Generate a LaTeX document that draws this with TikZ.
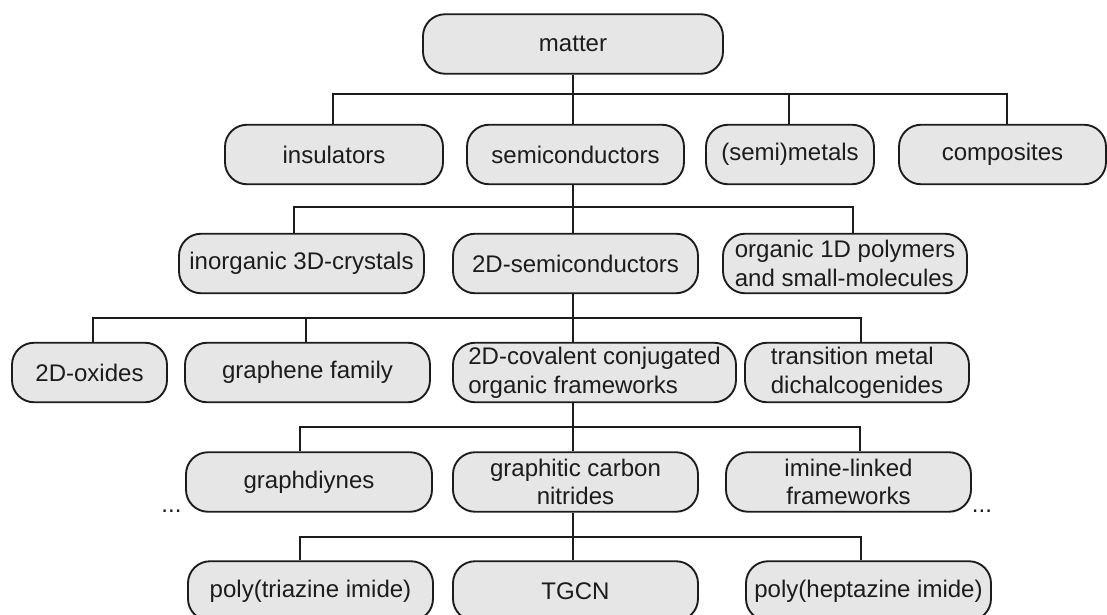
\documentclass[tikz,border=0pt]{standalone}
\usepackage{fontspec}
\setmainfont{Liberation Sans}
\usepackage{tikz}

\definecolor{boxgray}{RGB}{230,230,230}
\definecolor{ink}{RGB}{28,28,28}
\tikzset{
  cat/.style={draw=ink, fill=boxgray, line width=1.6pt, rounded corners=0.66cm,
    minimum height=1.785cm, inner sep=0pt, text=ink,
    font=\fontsize{20.5}{24.5}\selectfont},
  wd/.style={minimum width=#1*0.03cm},
  link/.style={draw=ink, line width=1.6pt},
  more/.style={inner sep=0pt, anchor=base, text=ink, font=\fontsize{20.5}{24.5}\selectfont}
}

\begin{document}
\begin{tikzpicture}[x=0.03cm,y=-0.03cm]
  \useasboundingbox (0,0) rectangle (1107,615);
  % level 0
  \node[cat,wd=300] (matter) at (573,44) {matter};
  % level 1
  \node[cat,wd=218] (ins) at (334,154.5) {insulators};
  \node[cat,wd=217] (semi) at (575.5,154.5) {semiconductors};
  \node[cat,wd=168] (metal) at (790,154.5) {(semi)metals};
  \node[cat,wd=207] (comp) at (1002.5,154.5) {composites};
  % level 2
  \node[cat,wd=245] (inorg) at (301.5,263.5) {inorganic 3D-crystals};
  \node[cat,wd=245] (twod) at (575.5,263.5) {2D-semiconductors};
  \node[cat,wd=244,align=left] (orgpoly) at (845,263.5) {organic 1D polymers\\and small-molecules};
  % level 3
  \node[cat,wd=155] (oxide) at (89.5,372.5) {2D-oxides};
  \node[cat,wd=245] (graphene) at (307.5,372.5) {graphene family};
  \node[cat,wd=283,align=left] (cof) at (594.5,372.5) {2D-covalent conjugated\\organic frameworks};
  \node[cat,wd=224,align=left] (tmd) at (857,372.5) {transition metal\\dichalcogenides};
  % level 4
  \node[cat,wd=246] (gdy) at (309,482) {graphdiynes};
  \node[cat,wd=245,align=center] (gcn) at (575.5,482) {graphitic carbon\\nitrides};
  \node[cat,wd=245,align=center] (imine) at (848.5,482) {imine-linked\\frameworks};
  \node[more] (moreL) at (171.5,512) {...};
  \node[more] (moreR) at (982,512) {...};
  % level 5
  \node[cat,wd=245] (pti) at (310.5,591) {poly(triazine imide)};
  \node[cat,wd=245] (tgcn) at (575.5,591) {TGCN};
  \node[cat,wd=245] (phi) at (868.5,591) {poly(heptazine imide)};

  % trunk
  \coordinate (trunk) at (573,0);
  \foreach \a/\b in {matter/semi,semi/twod,twod/cof,cof/gcn,gcn/tgcn}
    \draw[link] (\a.south -| trunk) -- (\b.north -| trunk);

  % branches
  \coordinate (j1a) at (333,94);  \coordinate (j1b) at (789,94);  \coordinate (j1c) at (1007,94);
  \coordinate (j2a) at (294,207); \coordinate (j2c) at (853,207);
  \coordinate (j3a) at (93,318);  \coordinate (j3b) at (306,318); \coordinate (j3c) at (861,318);
  \coordinate (j4a) at (300,427); \coordinate (j4c) at (860,427);
  \coordinate (j5a) at (300,537); \coordinate (j5c) at (861,537);

  \draw[link] (ins.north -| j1a) -- (j1a) -- (j1c) -- (comp.north -| j1c);
  \draw[link] (j1b) -- (metal.north -| j1b);
  \draw[link] (inorg.north -| j2a) -- (j2a) -- (j2c) -- (orgpoly.north -| j2c);
  \draw[link] (oxide.north -| j3a) -- (j3a) -- (j3c) -- (tmd.north -| j3c);
  \draw[link] (j3b) -- (graphene.north -| j3b);
  \draw[link] (gdy.north -| j4a) -- (j4a) -- (j4c) -- (imine.north -| j4c);
  \draw[link] (pti.north -| j5a) -- (j5a) -- (j5c) -- (phi.north -| j5c);
\end{tikzpicture}
\end{document}
